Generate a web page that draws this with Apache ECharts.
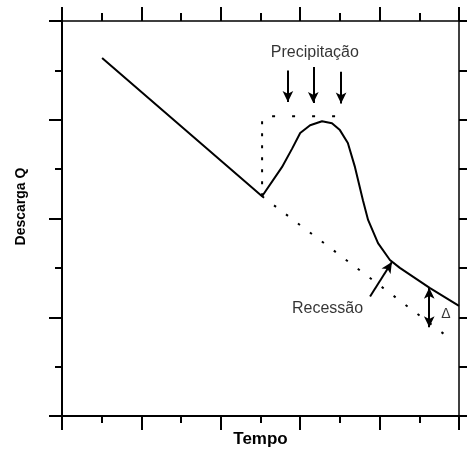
<!DOCTYPE html>
<html>
<head>
<meta charset="utf-8">
<script src="https://cdn.jsdelivr.net/npm/echarts@6/dist/echarts.min.js"></script>
<style>
  html, body { margin: 0; padding: 0; background: #fff; }
  #chart { width: 467px; height: 453px; }
</style>
</head>
<body>
<div id="chart"></div>
<script>
// hydrograph: discharge line with the rain bump
const hydroX = [1.01, 5.04, 5.54, 5.8, 6.0, 6.25, 6.55, 6.8, 7.0, 7.2, 7.38, 7.58, 7.71, 7.96, 8.26, 8.51, 9.27, 10.0];
const hydroY = [7.25, 4.45, 5.04, 5.42, 5.73, 5.89, 5.97, 5.93, 5.79, 5.53, 5.04, 4.37, 3.97, 3.5, 3.16, 3.0, 2.59, 2.23];

// extrapolated recession (dotted)
const recessX = [5.04, 9.72];
const recessY = [4.45, 1.6];

// rain block outline
const rainVertX = [5.04, 5.04];
const rainVertY = [4.45, 6.07];
const rainTopX = [5.04, 7.3];
const rainTopY = [6.07, 6.07];

// arrows: [x1, y1, x2, y2]
const rainArrows = [
  [5.69, 7.0, 5.69, 6.36],
  [6.33, 7.07, 6.33, 6.34],
  [7.03, 6.97, 7.03, 6.33]
];
const recessArrow = [7.76, 2.42, 8.31, 3.12];
const deltaArrow = [9.25, 2.6, 9.25, 1.8];

// annotations
const noteText = ['Precipitação', 'Recessão', 'Δ'];
const noteX = [6.37, 6.69, 9.67];
const noteY = [7.37, 2.18, 2.06];
const noteSize = [16, 16, 14];

const zip = (xs, ys) => xs.map((x, i) => [x, ys[i]]);

const chart = echarts.init(document.getElementById('chart'));

const axisBase = {
  type: 'value',
  axisLabel: { show: false },
  splitLine: { show: false },
  axisLine: { show: true, onZero: false, lineStyle: { color: '#000', width: 1.5 } },
  axisTick: { show: true, inside: false, length: 14, lineStyle: { color: '#000', width: 2 } },
  minorTick: { show: true, splitNumber: 2, length: 7, lineStyle: { color: '#000', width: 2 } },
  minorSplitLine: { show: false }
};

const arrowLine = (a) => [
  { coord: [a[0], a[1]] },
  { coord: [a[2], a[3]] }
];

const option = {
  animation: false,
  backgroundColor: '#fff',
  grid: { left: 62, right: 8, top: 21, bottom: 37 },
  xAxis: [
    Object.assign({}, axisBase, {
      position: 'bottom', min: 0, max: 10, interval: 2,
      axisLine: { show: true, onZero: false, lineStyle: { color: '#000', width: 2 } },
      name: 'Tempo', nameLocation: 'middle', nameGap: 15,
      nameTextStyle: {
        color: '#000', fontFamily: 'Liberation Sans', fontWeight: 'bold', fontSize: 17,
        verticalAlign: 'top'
      }
    }),
    Object.assign({}, axisBase, {
      position: 'top', min: 0, max: 10, interval: 2,
      minorTick: { show: true, splitNumber: 2, length: 8, lineStyle: { color: '#000', width: 2 } }
    })
  ],
  yAxis: [
    Object.assign({}, axisBase, {
      position: 'left', min: 0, max: 8, interval: 2,
      axisLine: { show: true, onZero: false, lineStyle: { color: '#000', width: 2 } },
      axisTick: { show: true, inside: false, length: 13, lineStyle: { color: '#000', width: 2 } },
      name: 'Descarga Q', nameLocation: 'middle', nameGap: 34, nameRotate: 90,
      nameTextStyle: {
        color: '#000', fontFamily: 'Liberation Sans', fontWeight: 'bold', fontSize: 14,
        padding: [0, 0, 0, 24]
      }
    }),
    Object.assign({}, axisBase, {
      position: 'right', min: 0, max: 8, interval: 1,
      axisTick: { show: true, inside: false, length: 8, lineStyle: { color: '#000', width: 2 } },
      minorTick: { show: false }
    })
  ],
  series: [
    {
      type: 'line', name: 'hydro', xAxisIndex: 0, yAxisIndex: 0,
      data: zip(hydroX, hydroY), symbol: 'none',
      lineStyle: { color: '#000', width: 2 }
    },
    {
      type: 'line', name: 'recess', xAxisIndex: 0, yAxisIndex: 0,
      data: zip(recessX, recessY), symbol: 'none',
      lineStyle: { color: '#000', width: 2, type: [2.5, 12.5] }
    },
    {
      type: 'line', name: 'rainVert', xAxisIndex: 0, yAxisIndex: 0,
      data: zip(rainVertX, rainVertY), symbol: 'none',
      lineStyle: { color: '#000', width: 2, type: [3, 9] }
    },
    {
      type: 'line', name: 'rainTop', xAxisIndex: 0, yAxisIndex: 0,
      data: zip(rainTopX, rainTopY), symbol: 'none',
      lineStyle: { color: '#000', width: 2, type: [3, 17], dashOffset: 10 }
    },
    {
      type: 'line', name: 'arrows', xAxisIndex: 0, yAxisIndex: 0,
      data: [], symbol: 'none',
      markLine: {
        silent: true, animation: false,
        symbol: ['none', 'arrow'], symbolSize: [8, 11],
        label: { show: false },
        lineStyle: { color: '#000', width: 2, type: 'solid' },
        emphasis: { disabled: true },
        data: rainArrows.map(arrowLine).concat([arrowLine(recessArrow)])
      }
    },
    {
      type: 'line', name: 'delta', xAxisIndex: 0, yAxisIndex: 0,
      data: [], symbol: 'none',
      markLine: {
        silent: true, animation: false,
        symbol: ['arrow', 'arrow'], symbolSize: [8, 11],
        label: { show: false },
        lineStyle: { color: '#000', width: 2, type: 'solid' },
        emphasis: { disabled: true },
        data: [arrowLine(deltaArrow)]
      }
    },
    {
      type: 'scatter', name: 'notes', xAxisIndex: 0, yAxisIndex: 0,
      symbolSize: 0, silent: true,
      data: noteText.map((t, i) => ({
        value: [noteX[i], noteY[i]],
        label: {
          show: true, position: 'inside', formatter: t,
          color: '#000', fontFamily: 'Liberation Sans', fontSize: noteSize[i]
        }
      }))
    }
  ]
};

chart.setOption(option);
</script>
</body>
</html>
